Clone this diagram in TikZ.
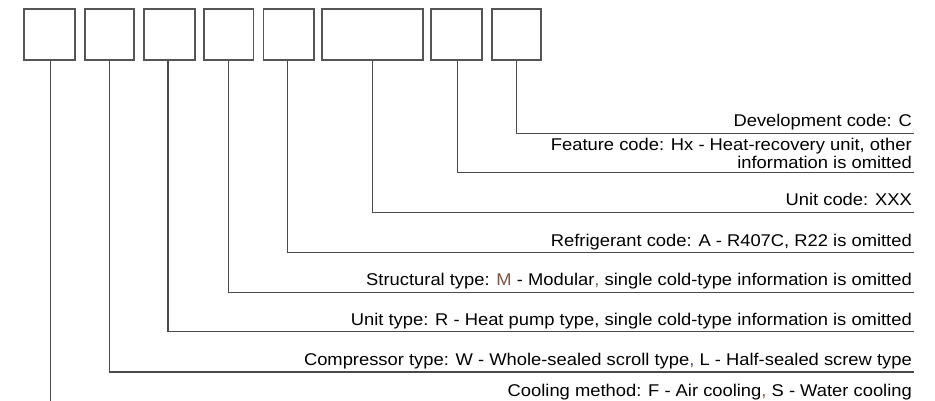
\documentclass[tikz,border=0pt]{standalone}
\usepackage{fontspec}
\setmainfont{Liberation Sans}[FakeStretch=1.08]
\usepackage{tikz}
\definecolor{linegray}{HTML}{4A4A4A}
\definecolor{boxgray}{HTML}{555555}
\definecolor{mbrown}{HTML}{7B5646}
\definecolor{cblue}{HTML}{3A4A7A}
\tikzset{codebox/.style={draw=boxgray, line width=1.6pt, minimum height=51pt, inner sep=0pt},
    lead/.style={draw=linegray, line width=1.4pt},
    lbl/.style={anchor=base east, inner sep=0pt, font=\fontsize{17}{18}\selectfont}}

\begin{document}
\begin{tikzpicture}[x=1pt, y=-1pt]
        \useasboundingbox (0,0) rectangle (935,401);
        % code boxes
        \foreach \name/\cx/\w in {b1/49.7/51, b2/109.7/49, b3/169.5/51, b4/228.7/49.5,
                                  b5/288.7/50.5, b6/372.5/101.5, b7/456.5/51, b8/516.3/49}
          \node[codebox, minimum width=\w pt] (\name) at (\cx,34.8) {};
        % labels
        \node[lbl] (t8) at (912,127) {Development code: C};
        \node[lbl, anchor=south east, align=right] (t7) at (912,168.5)
          {Feature code: Hx - Heat-recovery unit, other\\information is omitted};
        \node[lbl] (t6) at (912,206) {Unit code: XXX};
        \node[lbl] (t5) at (912,246) {Refrigerant code: A - R407C, R22 is omitted};
        \node[lbl] (t4) at (912,285.5) {Structural type: \textcolor{mbrown}{M} - Modular\textcolor{mbrown}{,} single cold-type information is omitted};
        \node[lbl] (t3) at (912,325) {Unit type: R - Heat pump type, single cold-type information is omitted};
        \node[lbl] (t2) at (912,365) {Compressor type: W - Whole-sealed scroll type\textcolor{cblue}{,} L - Half-sealed screw type};
        \node[lbl] (t1) at (912,396) {Cooling method: F - Air cooling\textcolor{mbrown}{,} S - Water cooling};
        % line ends
        \coordinate (e8) at (914,133.3);
        \coordinate (e7) at (914,172.3);
        \coordinate (e6) at (914,212.3);
        \coordinate (e5) at (914,252.3);
        \coordinate (e4) at (914,292.3);
        \coordinate (e3) at (914,331.3);
        \coordinate (e2) at (914,371.8);
        \coordinate (e1) at (50.7,401);
        % leaders
        \draw[lead] (b8.south) |- (e8);
        \draw[lead] ([xshift=0.8pt]b7.south) |- (e7);
        \draw[lead] (b6.south) |- (e6);
        \draw[lead] ([xshift=-1.4pt]b5.south) |- (e5);
        \draw[lead] (b4.south) |- (e4);
        \draw[lead] ([xshift=-1.5pt]b3.south) |- (e3);
        \draw[lead] ([xshift=-0.4pt]b2.south) |- (e2);
        \draw[lead] (b1.south -| e1) -- (e1);
    \end{tikzpicture}
\end{document}
